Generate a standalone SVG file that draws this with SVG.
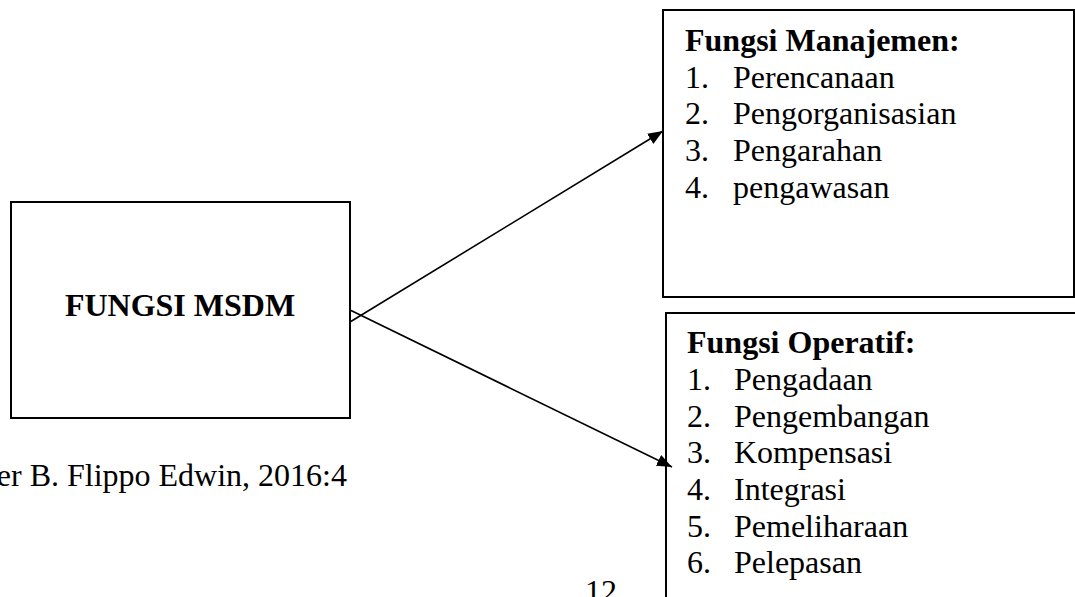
<svg xmlns="http://www.w3.org/2000/svg" width="1075" height="597" viewBox="0 0 1075 597">
  <style>
    .box { fill: #ffffff; stroke: #000000; stroke-width: 2; }
    .conn { stroke: #000000; stroke-width: 1.6; fill: none; }
    text { font-family: "Liberation Serif", "Times New Roman", serif; font-size: 32px; fill: #000000; }
    .b { font-weight: bold; }
  </style>
  <defs>
    <marker id="arrow" markerUnits="userSpaceOnUse" markerWidth="16" markerHeight="13" refX="15" refY="6" orient="auto">
      <path d="M0,0 L15,6 L0,12 z" fill="#000000"/>
    </marker>
  </defs>
  <rect width="1075" height="597" fill="#ffffff"/>

  <g id="node-msdm">
    <rect class="box" x="11" y="202" width="339" height="216"/>
    <text class="b" x="180" y="316" text-anchor="middle">FUNGSI MSDM</text>
  </g>

  <g id="node-manajemen">
    <rect class="box" x="663" y="10" width="411" height="287"/>
    <text class="b" x="685" y="51">Fungsi Manajemen:</text>
    <text x="685" y="87.7">1.</text><text x="733" y="87.7">Perencanaan</text>
    <text x="685" y="124.3">2.</text><text x="733" y="124.3">Pengorganisasian</text>
    <text x="685" y="161">3.</text><text x="733" y="161">Pengarahan</text>
    <text x="685" y="197.7">4.</text><text x="733" y="197.7">pengawasan</text>
  </g>

  <g id="node-operatif">
    <rect class="box" x="666" y="313" width="420" height="300"/>
    <text class="b" x="687" y="353.3">Fungsi Operatif:</text>
    <text x="687" y="390">1.</text><text x="734" y="390">Pengadaan</text>
    <text x="687" y="426.7">2.</text><text x="734" y="426.7">Pengembangan</text>
    <text x="687" y="463.3">3.</text><text x="734" y="463.3">Kompensasi</text>
    <text x="687" y="500">4.</text><text x="734" y="500">Integrasi</text>
    <text x="687" y="536.7">5.</text><text x="734" y="536.7">Pemeliharaan</text>
    <text x="687" y="573.3">6.</text><text x="734" y="573.3">Pelepasan</text>
  </g>

  <g id="connectors">
    <line class="conn" x1="350" y1="322" x2="663" y2="131" marker-end="url(#arrow)"/>
    <line class="conn" x1="350" y1="310" x2="672" y2="467" marker-end="url(#arrow)"/>
  </g>

  <g id="caption">
    <text x="347" y="486" text-anchor="end">er B. Flippo Edwin, 2016:4</text>
  </g>

  <g id="page-number">
    <text x="601" y="602" text-anchor="middle">12</text>
  </g>
</svg>
